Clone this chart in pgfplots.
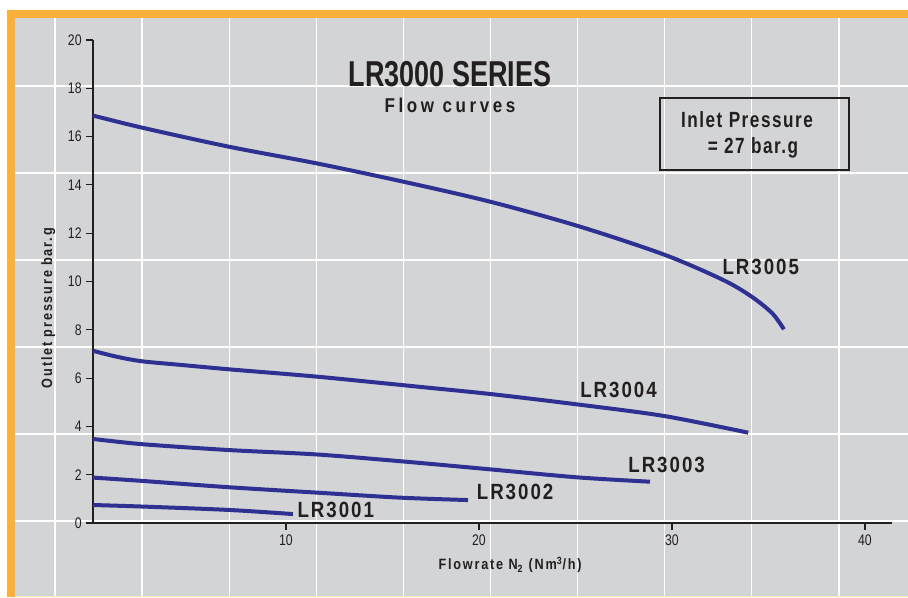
\documentclass[border=0pt]{standalone}
\usepackage{fontspec}
\usepackage{pgfplots}
\pgfplotsset{compat=1.18}
\setmainfont{Liberation Sans}
\newfontfamily\titlefont[FakeStretch=0.75]{Liberation Sans}
\newfontfamily\flowfont[FakeStretch=0.85,LetterSpace=18]{Liberation Sans}
\newfontfamily\lblfont[FakeStretch=0.85,LetterSpace=9]{Liberation Sans}
\newfontfamily\boxfont[FakeStretch=0.78,LetterSpace=7]{Liberation Sans}
\newfontfamily\axlblfont[FakeStretch=0.85,LetterSpace=12]{Liberation Sans}
\newfontfamily\tickfont[FakeStretch=0.8]{Liberation Sans}
\definecolor{orng}{HTML}{FBB03B}
\definecolor{bggrey}{HTML}{D3D4D6}
\definecolor{curve}{HTML}{2E3192}
\definecolor{ink}{HTML}{231F20}
\begin{document}
\begin{tikzpicture}[x=0.75pt,y=0.75pt]
\useasboundingbox (0,0) rectangle (908,597);
\fill[white] (0,0) rectangle (908,597);
\fill[bggrey] (15,0) rectangle (908,579);
\fill[orng] (7,579) rectangle (908,587);
\fill[orng] (7,0) rectangle (15,587);
\fill[orng!40] (15,0) rectangle (908,1.5);
\foreach \gx in {55,142.1,229.2,316.3,403.4,490.5,577.6,664.7,751.8,838.9}
  \draw[white,line width=1pt] (\gx,1.5) -- (\gx,579);
\foreach \gy in {76,163,250,337,424,511}
  \draw[white,line width=1pt] (15,\gy) -- (908,\gy);
\begin{axis}[
  at={(69.75pt,55.5pt)}, anchor=south west,
  scale only axis, width=599.25pt, height=362.25pt,
  xmin=0, xmax=41.4, ymin=0, ymax=20,
  axis lines=left,
  axis line style={-, draw=ink, line width=1.3pt},
  xtick={10,20,30,40}, ytick={0,2,...,20},
  tick style={draw=ink, line width=0.9pt},
  major tick length=5pt, tick align=outside,
  tick label style={font=\tickfont\fontsize{11.5}{12}\selectfont, text=ink},
  /pgf/number format/assume math mode=true,
  xlabel={Flowrate N\textsubscript{2} (Nm\textsuperscript{3}/h)},
  ylabel={Outlet pressure bar.g},
  every axis x label/.style={at={(axis description cs:0.522,-0.087)}, anchor=center,
     font=\axlblfont\bfseries\fontsize{11.2}{12}\selectfont, text=ink},
  every axis y label/.style={at={(axis description cs:-0.056,0.445)}, rotate=90, anchor=center,
     font=\axlblfont\bfseries\fontsize{11.2}{12}\selectfont, text=ink},
  clip=false,
]
\addplot[curve, line width=3pt, smooth, tension=0.5] coordinates {
 (0,16.87) (2.6,16.36) (7.05,15.58) (11.6,14.89) (16.1,14.13)
 (20.6,13.30) (25.2,12.28) (29.64,11.10) (32.66,10.06) (34.13,9.37)
 (35.2,8.68) (35.8,8.02)};
\addplot[curve, line width=3pt, smooth, tension=0.5] coordinates {
 (0,7.13) (1.2,6.89) (2.5,6.70) (4.5,6.55) (7.1,6.36) (11.6,6.06) (16.9,5.64)
 (20.6,5.34) (25.1,4.91) (29.6,4.43) (33.95,3.74)};
\addplot[curve, line width=3pt, smooth, tension=0.5] coordinates {
 (0,3.48) (2.6,3.26) (7.05,3.02) (11.55,2.84) (15.9,2.56) (20.6,2.22) (25.1,1.89) (28.86,1.71)};
\addplot[curve, line width=3pt, smooth, tension=0.5] coordinates {
 (0,1.88) (2.6,1.74) (7.05,1.48) (11.55,1.26) (15.9,1.05) (19.43,0.95)};
\addplot[curve, line width=3pt, smooth, tension=0.5] coordinates {
 (0,0.745) (2.6,0.68) (7.05,0.54) (10.36,0.37)};
\begin{scope}[every node/.style={font=\lblfont\bfseries\fontsize{16.5}{18}\selectfont, text=ink, anchor=base, inner sep=0pt}]
\node at (axis cs:34.6,10.31) {LR3005};
\node at (axis cs:27.23,5.2) {LR3004};
\node at (axis cs:29.72,2.08) {LR3003};
\node at (axis cs:21.87,0.98) {LR3002};
\node at (axis cs:12.58,0.24) {LR3001};
\end{scope}
\end{axis}
\node[font=\titlefont\bfseries\fontsize{27}{30}\selectfont, text=ink, anchor=base, inner sep=0pt] at (450,510) {LR3000 SERIES};
\node[font=\flowfont\bfseries\fontsize{15}{16}\selectfont, text=ink, anchor=base, inner sep=0pt] at (450,484) {Flow curves};
\draw[ink, line width=1.9pt] (660,499) rectangle (849,427);
\node[font=\boxfont\bfseries\fontsize{16.5}{18}\selectfont, text=ink, anchor=base, inner sep=0pt] at (747,469) {Inlet Pressure};
\node[font=\boxfont\bfseries\fontsize{16.5}{18}\selectfont, text=ink, anchor=base, inner sep=0pt] at (753,443) {= 27 bar.g};
\end{tikzpicture}
\end{document}
